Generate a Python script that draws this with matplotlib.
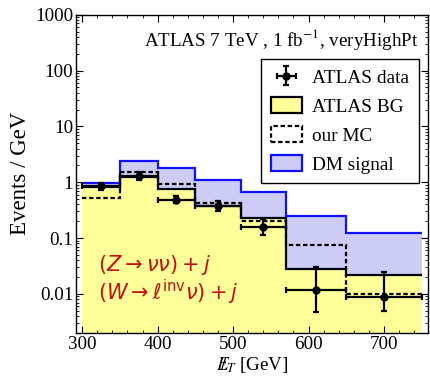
import numpy as np
import matplotlib
matplotlib.use("Agg")
import matplotlib.pyplot as plt
from matplotlib.patches import Patch
from matplotlib.ticker import MultipleLocator, LogLocator, NullFormatter, FixedLocator

plt.rcParams['font.family'] = ['Liberation Serif', 'DejaVu Serif']
plt.rcParams['mathtext.fontset'] = 'stix'

# bin edges in missing E_T [GeV]
edges = [300, 350, 400, 450, 510, 570, 650, 750]

# events / GeV
dm_signal = [0.97, 2.45, 1.8, 1.08, 0.66, 0.25, 0.125]
atlas_bg = [0.82, 1.22, 0.76, 0.38, 0.23, 0.028, 0.0215]
our_mc = [0.53, 1.5, 0.92, 0.43, 0.20, 0.074, 0.0099]

data_x = [325, 375, 425, 480, 540, 610, 700]
data_y = [0.85, 1.3, 0.48, 0.37, 0.16, 0.0118, 0.0089]
data_err_lo = [0.12, 0.18, 0.06, 0.07, 0.045, 0.007, 0.004]
data_err_hi = [0.13, 0.22, 0.08, 0.09, 0.06, 0.018, 0.0157]
data_xerr = [25, 25, 25, 30, 30, 40, 50]

yellow = '#ffff99'
lightblue = '#ccccf7'
blue = '#1010ff'

fig = plt.figure(figsize=(4.3, 3.8), dpi=100)
ax = fig.add_axes([0.177, 0.124, 0.818, 0.837])

floor = 1e-5
ax.stairs(dm_signal, edges, baseline=floor, fill=True, color=lightblue, lw=0)
ax.stairs(atlas_bg, edges, baseline=floor, fill=True, color=yellow, lw=0)
ax.stairs(dm_signal, edges, baseline=None, color=blue, lw=1.6)
ax.stairs(atlas_bg, edges, baseline=None, color='k', lw=1.6)
ax.stairs(our_mc, edges, baseline=None, color='k', lw=1.6, linestyle=(0, (2, 1.2)))

eb = ax.errorbar(data_x, data_y, xerr=data_xerr, yerr=[data_err_lo, data_err_hi],
                 fmt='o', color='k', ms=5, elinewidth=1.6, capsize=2.5, capthick=1.6)

ax.set_yscale('log')
ax.set_xlim(292, 758)
ax.set_ylim(0.002, 1000)
ax.set_yticks([0.01, 0.1, 1, 10, 100, 1000])
ax.set_yticklabels(['0.01', '0.1', '1', '10', '100', '1000'])
ax.yaxis.set_minor_locator(LogLocator(base=10, subs=np.arange(2, 10), numticks=20))
ax.yaxis.set_minor_formatter(NullFormatter())
ax.xaxis.set_major_locator(FixedLocator([300, 400, 500, 600, 700]))
ax.xaxis.set_minor_locator(MultipleLocator(20))
ax.tick_params(which='both', direction='in', top=True, right=True, labelsize=13.7)
ax.tick_params(which='major', length=5, pad=2)
ax.tick_params(which='minor', length=2.5)
for s in ax.spines.values():
    s.set_linewidth(1.0)

ax.set_xlabel(r'$E\!\!\!/_{T}$ [GeV]', fontsize=13.7, labelpad=2)
ax.set_ylabel('Events / GeV', fontsize=16.5, labelpad=3)

ax.text(0.972, 0.921, r'ATLAS 7 TeV , 1 fb$^{-1}$, veryHighPt', transform=ax.transAxes,
        ha='right', va='center', fontsize=13.7)

red = '#c41010'
ax.text(0.062, 0.212, r'$(Z\rightarrow\nu\nu)+j$', transform=ax.transAxes, color=red,
        fontsize=15, va='center', ha='left', math_fontfamily='dejavusans')
ax.text(0.062, 0.128, r'$(W\rightarrow\ell^{\mathrm{inv}}\nu)+j$', transform=ax.transAxes,
        color=red, fontsize=15, va='center', ha='left', math_fontfamily='dejavusans')

handles = [eb,
           Patch(facecolor=yellow, edgecolor='k', lw=1.6),
           Patch(facecolor='white', edgecolor='k', lw=1.6, linestyle=(0, (2, 1.2))),
           Patch(facecolor=lightblue, edgecolor=blue, lw=1.6)]
labels = ['ATLAS data', 'ATLAS BG', 'our MC', 'DM signal']
leg = ax.legend(handles, labels, loc='upper right', bbox_to_anchor=(0.974, 0.862),
                fontsize=13.9, frameon=True, fancybox=False, edgecolor='k',
                framealpha=1, handlelength=1.65, handleheight=0.92, labelspacing=0.52,
                borderpad=0.5, handletextpad=0.5, borderaxespad=0)
leg.get_frame().set_linewidth(1.0)

fig.savefig('out.png', dpi=100)
